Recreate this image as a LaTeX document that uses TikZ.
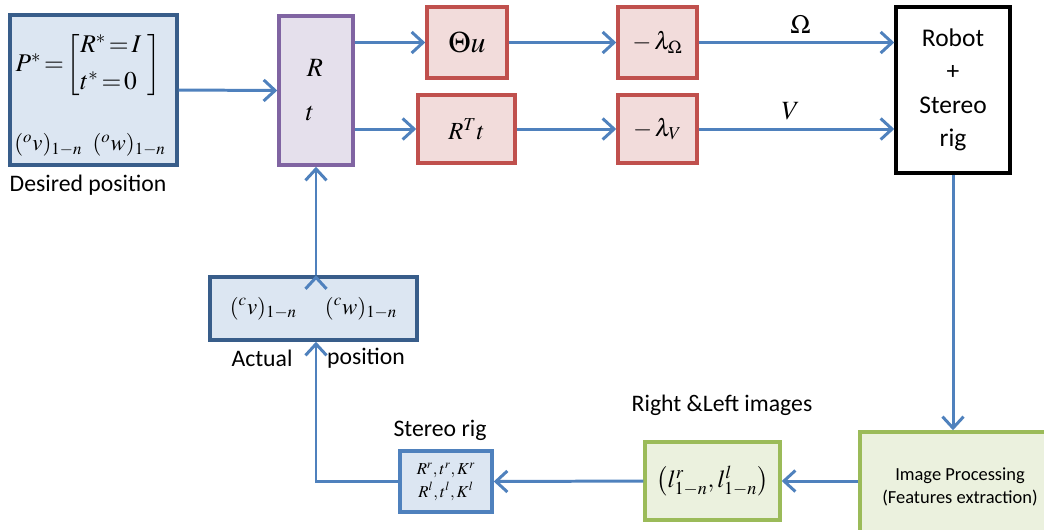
\documentclass[tikz,border=0pt]{standalone}
\usepackage{mathptmx}
\usepackage{fontspec}
\setmainfont{Carlito}
\usetikzlibrary{arrows.meta}

\definecolor{flowblue}{HTML}{4F81BD}
\definecolor{darkblue}{HTML}{385D8A}
\definecolor{lightblue}{HTML}{DCE6F2}
\definecolor{purpleline}{HTML}{8064A2}
\definecolor{purplefill}{HTML}{E5E0EC}
\definecolor{redline}{HTML}{C0504D}
\definecolor{redfill}{HTML}{F2DCDB}
\definecolor{greenline}{HTML}{9BBB59}
\definecolor{greenfill}{HTML}{EBF1DE}

\begin{document}
\begin{tikzpicture}[x=0.02cm,y=-0.02cm,
                    box/.style={draw,line width=2pt,inner sep=0pt},
                    blue box/.style={box,draw=darkblue,fill=lightblue},
                    red box/.style={box,draw=redline,fill=redfill,font=\fontsize{14}{16}\selectfont},
                    green box/.style={box,draw=greenline,fill=greenfill},
                    label text/.style={font=\fontsize{13.5}{16}\selectfont},
                    flow/.style={draw=flowblue,line width=1.7pt,-{Straight Barb[length=6.5pt,width=12pt]}}]
  \useasboundingbox (0,0) rectangle (1044,529);
  \clip (0,0) rectangle (1044,529);

  % upper row
  \node[blue box,minimum width=3.34cm,minimum height=3cm] (des) at (93.5,90) {};
  \node[font=\fontsize{14.5}{17}\selectfont] (desm) at (88,65)
    {$P^{*}\!=\!\left[\begin{array}{@{}l@{\;}}R^{*}\!=\!I\\[4pt] t^{*}\!=\!0\end{array}\right]$};
  \node[font=\fontsize{13}{15}\selectfont] (desv) at (90,145) {$({}^{o}v)_{1-n}\;\;({}^{o}w)_{1-n}$};
  \node[label text] (desl) at (88,185) {Desired position};

  \node[box,draw=purpleline,fill=purplefill,minimum width=1.48cm,minimum height=2.98cm] (rt) at (316,90.5) {};
  \node[font=\fontsize{15}{17}\selectfont] (rtr) at (315,68) {$R$};
  \node[font=\fontsize{15}{17}\selectfont] (rtt) at (310,113) {$t$};

  \node[red box,minimum width=1.6cm,minimum height=1.42cm,font=\fontsize{17}{19}\selectfont] (thu) at (467,42.5) {$\Theta u$};
  \node[red box,minimum width=1.94cm,minimum height=1.36cm] (rtr2) at (466.5,129) {$R^{T}t$};
  \node[red box,minimum width=1.58cm,minimum height=1.42cm] (lo) at (657.5,42.5) {$-\,\lambda_{\Omega}$};
  \node[red box,minimum width=1.58cm,minimum height=1.36cm] (lv) at (657.5,129) {$-\,\lambda_{V}$};

  \node[box,draw=black,fill=white,minimum width=2.28cm,minimum height=3.32cm,align=center,
        font=\fontsize{14.5}{19}\selectfont] (rob) at (953,90) {Robot\\+\\Stereo\\rig};

  % lower row
  \node[green box,minimum width=4cm,minimum height=2.2cm,align=center,
        font=\fontsize{10.5}{13}\selectfont] (ip) at (960,487) {Image Processing\\(Features extraction)};
  \node[green box,minimum width=2.7cm,minimum height=1.56cm,font=\fontsize{14}{16}\selectfont] (lim) at (712.5,481)
    {$\left(l^{r}_{1-n},l^{l}_{1-n}\right)$};
  \node[label text] (liml) at (722,405) {Right \&Left images};
  \node[box,draw=flowblue,fill=lightblue,minimum width=1.84cm,minimum height=1.22cm,align=center,
        font=\fontsize{9.5}{13}\selectfont] (ster) at (446,481.5) {$R^{r},t^{r},K^{r}$\\$R^{l},t^{l},K^{l}$};
  \node[label text] (sterl) at (440,430) {Stereo rig};

  \node[blue box,minimum width=4.14cm,minimum height=1.26cm,font=\fontsize{13}{15}\selectfont] (act) at (313.5,308.5)
    {$({}^{c}v)_{1-n}\quad\;({}^{c}w)_{1-n}$};
  \node[label text] (actl) at (262,358) {Actual};
  \node[label text] (actp) at (366,358) {position};

  % connectors
  \path[flow]
    (des.east) edge (rt.west)
    (rt.east |- thu.west) edge (thu.west)
    (rt.east |- rtr2.west) edge (rtr2.west)
    (thu.east) edge (lo.west)
    (rtr2.east) edge (lv.west)
    (lo.east) edge node[above=1pt,pos=0.52,font=\fontsize{15}{17}\selectfont] {$\Omega$} (rob.west |- lo.east)
    (lv.east) edge node[above=1pt,pos=0.47,font=\fontsize{15}{17}\selectfont] {$V$} (rob.west |- lv.east)
    (rob.south) edge (rob.south |- ip.north)
    (ip.west |- lim.east) edge (lim.east)
    (lim.west) edge (ster.east)
    (act.north -| rt.south) edge (rt.south);
  \draw[flow] (ster.west) -| (act.south -| rt.south);
\end{tikzpicture}
\end{document}
